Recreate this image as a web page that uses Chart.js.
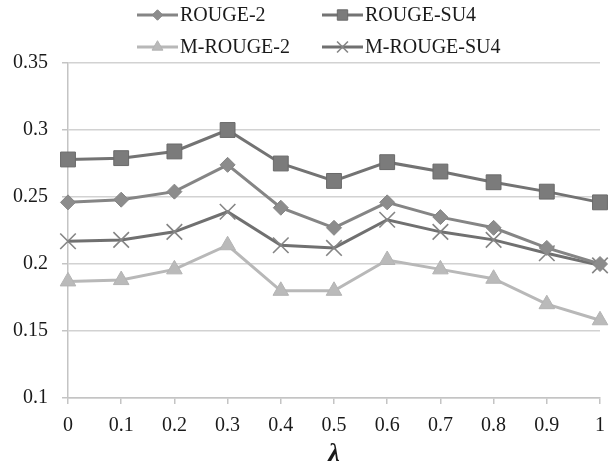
<!DOCTYPE html>
<html>
<head>
<meta charset="utf-8">
<script src="https://cdn.jsdelivr.net/npm/chart.js@4/dist/chart.umd.min.js"></script>
<style>
  html, body { margin: 0; padding: 0; background: #fff; }
  #wrap { width: 615px; height: 473px; }
</style>
</head>
<body>
<div id="wrap"><canvas id="chart" width="615" height="473"></canvas></div>
<script>
const lambdas = ["0", "0.1", "0.2", "0.3", "0.4", "0.5", "0.6", "0.7", "0.8", "0.9", "1"];
const yTicks = [0.1, 0.15, 0.2, 0.25, 0.3, 0.35];

const rouge2 = [0.246, 0.248, 0.254, 0.274, 0.242, 0.227, 0.246, 0.235, 0.227, 0.212, 0.200];
const rougeSU4 = [0.278, 0.279, 0.284, 0.300, 0.275, 0.262, 0.276, 0.269, 0.261, 0.254, 0.246];
const mRouge2 = [0.187, 0.188, 0.196, 0.214, 0.180, 0.180, 0.203, 0.196, 0.189, 0.170, 0.158];
const mRougeSU4 = [0.217, 0.218, 0.224, 0.239, 0.214, 0.212, 0.233, 0.224, 0.218, 0.208, 0.199];

const serif = "'Liberation Serif', 'Times New Roman', serif";

const datasets = [
  {
    label: "ROUGE-2",
    data: rouge2,
    borderColor: "#858585",
    backgroundColor: "#8c8c8c",
    pointBorderColor: "#858585",
    pointStyle: "rectRot",
    pointRadius: 7.5,
  },
  {
    label: "ROUGE-SU4",
    data: rougeSU4,
    borderColor: "#737373",
    backgroundColor: "#7b7b7b",
    pointBorderColor: "#6a6a6a",
    pointStyle: "rect",
    pointRadius: 10.5,
  },
  {
    label: "M-ROUGE-2",
    data: mRouge2,
    borderColor: "#b8b8b8",
    backgroundColor: "#bababa",
    pointBorderColor: "#b3b3b3",
    pointStyle: "triangle",
    pointRadius: 9,
  },
  {
    label: "M-ROUGE-SU4",
    data: mRougeSU4,
    borderColor: "#707070",
    backgroundColor: "#888888",
    pointBorderColor: "#858585",
    pointStyle: "crossRot",
    pointRadius: 11,
    pointBorderWidth: 1.6,
  },
];

// legend drawn by hand so the two columns line up like the original
const legendPlugin = {
  id: "gridLegend",
  afterDraw(chart) {
    const ctx = chart.ctx;
    const colX = [137, 322];
    const rowY = [15, 47];
    chart.data.datasets.forEach((ds, i) => {
      const x0 = colX[i % 2];
      const y = rowY[Math.floor(i / 2)];
      ctx.save();
      ctx.strokeStyle = ds.borderColor;
      ctx.lineWidth = 3;
      ctx.beginPath();
      ctx.moveTo(x0, y);
      ctx.lineTo(x0 + 41, y);
      ctx.stroke();
      ctx.fillStyle = ds.backgroundColor;
      ctx.strokeStyle = ds.pointBorderColor;
      ctx.lineWidth = ds.pointBorderWidth || 1;
      Chart.helpers.drawPoint(ctx, {
        pointStyle: ds.pointStyle,
        radius: ds.pointRadius * 0.7,
        rotation: 0,
        borderWidth: ctx.lineWidth,
      }, x0 + 20.5, y);
      ctx.fillStyle = "#1a1a1a";
      ctx.font = "20px " + serif;
      ctx.textBaseline = "middle";
      ctx.textAlign = "left";
      ctx.fillText(ds.label, x0 + 43, y + 1);
      ctx.restore();
    });
  },
};

const config = {
  type: "line",
  data: { labels: lambdas, datasets },
  options: {
    responsive: false,
    animation: false,
    devicePixelRatio: 1,
    layout: { padding: { top: 63, right: 11, left: 0, bottom: 0 } },
    elements: {
      line: { borderWidth: 3, tension: 0 },
      point: { borderWidth: 1, hoverRadius: 8 },
    },
    clip: false,
    plugins: {
      legend: { display: false },
      tooltip: { enabled: false },
    },
    scales: {
      x: {
        afterFit: (scale) => { scale.height = 75; },
        grid: {
          color: "rgba(0,0,0,0)",
          tickColor: "#c4c4c4",
          tickLength: 6,
          lineWidth: 1.5,
        },
        border: { display: true, color: "#c4c4c4", width: 1.5 },
        ticks: {
          color: "#1a1a1a",
          font: { family: serif, size: 20 },
          padding: 10,
          maxRotation: 0,
          autoSkip: false,
        },
        title: {
          display: true,
          text: "λ",
          color: "#1a1a1a",
          font: { family: serif, size: 26, weight: "bold", style: "italic" },
          padding: { top: 0, bottom: 3 },
        },
      },
      y: {
        min: 0.1,
        max: 0.35,
        afterFit: (scale) => { scale.width = 68; },
        afterBuildTicks: (scale) => { scale.ticks = yTicks.map((v) => ({ value: v })); },
        grid: {
          color: "#d2d2d2",
          tickColor: "#c4c4c4",
          tickLength: 6,
          lineWidth: 1.5,
        },
        border: { display: true, color: "#c4c4c4", width: 1.5 },
        ticks: {
          color: "#1a1a1a",
          font: { family: serif, size: 20 },
          padding: 14,
          callback: (v) => String(Number(v.toFixed(2))),
        },
      },
    },
  },
  plugins: [legendPlugin],
};

const myChart = document.getElementById("chart");
new Chart(myChart, config);
</script>
</body>
</html>
